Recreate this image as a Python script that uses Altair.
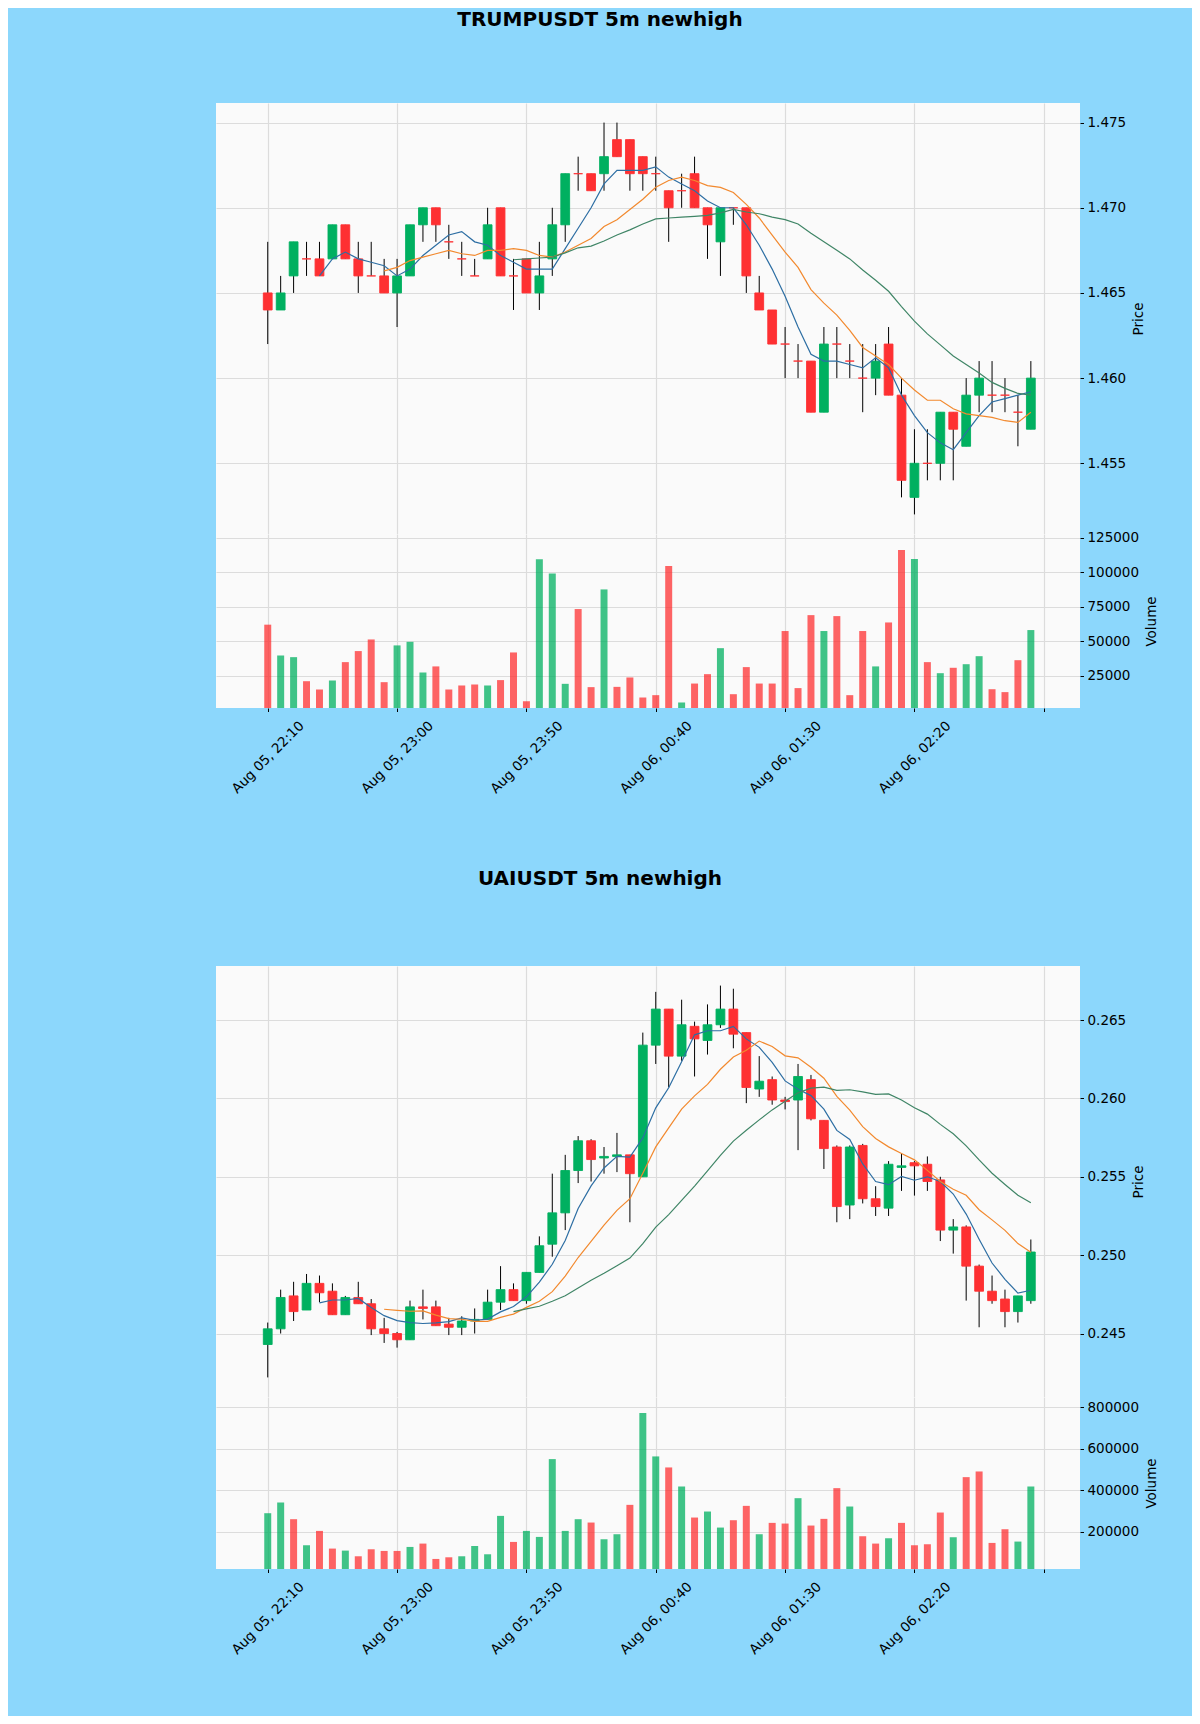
import json
import altair as alt
import pandas as pd

# ---------------- style ----------------
BG = "#8cd7fc"
PANEL = "#fafafa"
UP = "#00b060"
DOWN = "#fe3032"
GRID = "#dcdcdc"
MA_COLORS = ["#2d6ea3", "#f2892e", "#3f8566"]
MA_PERIODS = [5, 10, 20]
FONT = "DejaVu Sans"
FS = 13.5

# ---------------- axis ticks ----------------
tick_positions = [0, 10, 20, 30, 40, 50, 60]
tick_labels = ["Aug 05, 22:10", "Aug 05, 23:00", "Aug 05, 23:50",
               "Aug 06, 00:40", "Aug 06, 01:30", "Aug 06, 02:20", ""]

# ---------------- TRUMPUSDT ----------------
trump_open = [1.465, 1.464, 1.466, 1.467, 1.467, 1.467, 1.469, 1.467, 1.466, 1.466,
              1.465, 1.466, 1.469, 1.470, 1.468, 1.467, 1.466, 1.467, 1.470, 1.466,
              1.467, 1.465, 1.467, 1.469, 1.472, 1.472, 1.472, 1.474, 1.474, 1.473,
              1.472, 1.471, 1.471, 1.472, 1.470, 1.468, 1.470, 1.470, 1.465, 1.464,
              1.462, 1.461, 1.461, 1.458, 1.462, 1.461, 1.460, 1.460, 1.462, 1.459,
              1.453, 1.455, 1.455, 1.458, 1.456, 1.459, 1.459, 1.459, 1.458, 1.457]
trump_high = [1.468, 1.466, 1.468, 1.468, 1.468, 1.469, 1.469, 1.468, 1.468, 1.467,
              1.467, 1.469, 1.470, 1.470, 1.469, 1.468, 1.467, 1.470, 1.470, 1.467,
              1.467, 1.468, 1.470, 1.472, 1.473, 1.472, 1.475, 1.475, 1.474, 1.473,
              1.473, 1.471, 1.472, 1.473, 1.470, 1.470, 1.470, 1.470, 1.466, 1.464,
              1.463, 1.462, 1.461, 1.463, 1.463, 1.462, 1.462, 1.462, 1.463, 1.460,
              1.457, 1.457, 1.458, 1.458, 1.460, 1.461, 1.461, 1.460, 1.459, 1.461]
trump_low = [1.462, 1.464, 1.465, 1.466, 1.466, 1.467, 1.467, 1.465, 1.466, 1.465,
             1.463, 1.466, 1.468, 1.468, 1.467, 1.466, 1.466, 1.467, 1.466, 1.464,
             1.465, 1.464, 1.466, 1.468, 1.471, 1.471, 1.471, 1.473, 1.471, 1.471,
             1.471, 1.468, 1.470, 1.470, 1.467, 1.466, 1.469, 1.465, 1.464, 1.462,
             1.460, 1.460, 1.458, 1.458, 1.460, 1.460, 1.458, 1.459, 1.459, 1.453,
             1.452, 1.454, 1.454, 1.454, 1.456, 1.458, 1.458, 1.458, 1.456, 1.457]
trump_close = [1.464, 1.465, 1.468, 1.467, 1.466, 1.469, 1.467, 1.466, 1.466, 1.465,
               1.466, 1.469, 1.470, 1.469, 1.468, 1.467, 1.466, 1.469, 1.466, 1.466,
               1.465, 1.466, 1.469, 1.472, 1.472, 1.471, 1.473, 1.473, 1.472, 1.472,
               1.472, 1.470, 1.471, 1.470, 1.469, 1.470, 1.470, 1.466, 1.464, 1.462,
               1.462, 1.461, 1.458, 1.462, 1.462, 1.461, 1.460, 1.461, 1.459, 1.454,
               1.455, 1.455, 1.458, 1.457, 1.459, 1.460, 1.459, 1.459, 1.458, 1.460]
trump_volume = [62000, 39700, 38500, 21100, 15100, 21600, 34900, 42900, 51300, 20400,
                47000, 49600, 27400, 31800, 15100, 18000, 18700, 18000, 21900, 41900,
                6600, 109300, 99100, 19200, 73300, 16800, 87500, 17000, 23800, 9300,
                11000, 104400, 5700, 19400, 26200, 45000, 11700, 31300, 19400, 19400,
                57400, 16100, 68900, 57400, 68200, 11000, 57400, 31800, 63600, 116000,
                109500, 34900, 26900, 30800, 33400, 39200, 15300, 13200, 36300, 58100]
trump_price_ticks = [1.455, 1.460, 1.465, 1.470, 1.475]
trump_volume_ticks = [25000, 50000, 75000, 100000, 125000]

# ---------------- UAIUSDT ----------------
uai_open = [0.2443, 0.2453, 0.2474, 0.2465, 0.2482, 0.2477, 0.2462, 0.2473, 0.2469, 0.2453,
            0.2450, 0.2446, 0.2467, 0.2467, 0.2456, 0.2454, 0.2458, 0.2459, 0.2470, 0.2478,
            0.2471, 0.2489, 0.2507, 0.2527, 0.2554, 0.2573, 0.2562, 0.2563, 0.2564, 0.2550,
            0.2634, 0.2657, 0.2627, 0.2646, 0.2637, 0.2647, 0.2657, 0.2642, 0.2606, 0.2612,
            0.2599, 0.2599, 0.2612, 0.2586, 0.2569, 0.2532, 0.2570, 0.2536, 0.2530, 0.2556,
            0.2559, 0.2558, 0.2548, 0.2516, 0.2518, 0.2493, 0.2477, 0.2472, 0.2464, 0.2471]
uai_high = [0.2457, 0.2478, 0.2483, 0.2488, 0.2487, 0.2482, 0.2474, 0.2483, 0.2472, 0.2460,
            0.2451, 0.2471, 0.2478, 0.2471, 0.2460, 0.2461, 0.2466, 0.2478, 0.2493, 0.2482,
            0.2489, 0.2512, 0.2552, 0.2564, 0.2576, 0.2574, 0.2569, 0.2578, 0.2564, 0.2642,
            0.2668, 0.2657, 0.2663, 0.2649, 0.2660, 0.2672, 0.2670, 0.2642, 0.2627, 0.2614,
            0.2601, 0.2622, 0.2615, 0.2586, 0.2570, 0.2570, 0.2571, 0.2544, 0.2560, 0.2565,
            0.2560, 0.2563, 0.2550, 0.2523, 0.2519, 0.2494, 0.2487, 0.2478, 0.2474, 0.2510]
uai_low = [0.2422, 0.2450, 0.2458, 0.2465, 0.2470, 0.2462, 0.2462, 0.2469, 0.2449, 0.2444,
           0.2441, 0.2446, 0.2459, 0.2455, 0.2449, 0.2449, 0.2450, 0.2459, 0.2465, 0.2471,
           0.2469, 0.2489, 0.2499, 0.2516, 0.2546, 0.2547, 0.2552, 0.2553, 0.2521, 0.2550,
           0.2622, 0.2607, 0.2624, 0.2614, 0.2628, 0.2645, 0.2632, 0.2597, 0.2601, 0.2596,
           0.2593, 0.2567, 0.2586, 0.2555, 0.2521, 0.2523, 0.2533, 0.2525, 0.2525, 0.2541,
           0.2538, 0.2541, 0.2509, 0.2501, 0.2471, 0.2454, 0.2469, 0.2454, 0.2457, 0.2469]
uai_close = [0.2453, 0.2473, 0.2464, 0.2482, 0.2476, 0.2462, 0.2473, 0.2469, 0.2453, 0.2450,
             0.2446, 0.2467, 0.2466, 0.2455, 0.2454, 0.2458, 0.2459, 0.2470, 0.2478, 0.2471,
             0.2489, 0.2506, 0.2527, 0.2554, 0.2573, 0.2561, 0.2563, 0.2564, 0.2552, 0.2634,
             0.2657, 0.2627, 0.2647, 0.2638, 0.2647, 0.2657, 0.2641, 0.2607, 0.2611, 0.2599,
             0.2598, 0.2614, 0.2587, 0.2568, 0.2531, 0.2569, 0.2536, 0.2531, 0.2558, 0.2557,
             0.2557, 0.2547, 0.2516, 0.2518, 0.2493, 0.2477, 0.2471, 0.2464, 0.2474, 0.2502]
uai_volume = [289600, 341100, 260700, 135200, 204300, 119100, 109400, 82100, 115800, 107800,
              107800, 127100, 143200, 69200, 77200, 82100, 131900, 91700, 276700, 151200,
              204300, 175400, 550300, 204300, 260700, 244600, 164100, 188300, 329800, 772300,
              563200, 510100, 418300, 268700, 297700, 220400, 255800, 325000, 188300, 243000,
              239700, 362000, 230100, 262300, 410300, 321800, 178600, 143200, 168900, 243000,
              135200, 140000, 292800, 173800, 463400, 490700, 146400, 212400, 152900, 418300]
uai_price_ticks = [0.245, 0.250, 0.255, 0.260, 0.265]
uai_volume_ticks = [200000, 400000, 600000, 800000]

# ---------------- layout ----------------
PLOT_W = 864
FULL_W = 976
X_DOMAIN = [-4.0, 62.8]


def make_df(o, h, l, c, v):
    return pd.DataFrame({"i": list(range(len(o))), "open": o, "high": h,
                         "low": l, "close": c, "volume": v})


def x_channel(field, labels):
    if labels:
        arr = json.dumps(tick_labels)
        axis = alt.Axis(values=tick_positions, title=None, domain=False, grid=True,
                        gridColor=GRID, gridWidth=1.2, ticks=True, tickSize=3.5,
                        tickColor="black",
                        labelExpr=f"{arr}[indexof({json.dumps(tick_positions)}, datum.value)]",
                        labelAngle=315, labelAlign="center", labelBaseline="middle",
                        labelPadding=45.5, labelOverlap=False, labelFontSize=FS,
                        labelColor="black", labelFont=FONT)
    else:
        axis = alt.Axis(values=tick_positions, title=None, domain=False, grid=True,
                        gridColor=GRID, gridWidth=1.2, ticks=False, labels=False)
    return alt.X(field, scale=alt.Scale(domain=X_DOMAIN, nice=False, zero=False), axis=axis)


def y_axis(values, fmt, title):
    return alt.Axis(orient="right", values=values, format=fmt, title=title,
                    titleAngle=270, titleBaseline="top", titlePadding=6,
                    titleFontSize=FS, titleFontWeight="normal", titleFont=FONT,
                    titleColor="black", labelFontSize=FS, labelFont=FONT,
                    labelColor="black", tickSize=3.5, tickColor="black",
                    labelPadding=3.5, domain=False, grid=True, gridColor=GRID,
                    gridWidth=1.2)


def price_panel(df, title, ticks, fmt, height, title_offset):
    lo, hi = df["low"].min(), df["high"].max()
    pad = 0.05 * (hi - lo)
    yscale = alt.Scale(domain=[lo - pad, hi + pad], nice=False, zero=False)
    yax = y_axis(ticks, fmt, "Price")

    def Y(field):
        return alt.Y(field, scale=yscale, axis=yax)

    base = alt.Chart(df)
    wick = base.mark_rule(color="black", strokeWidth=1).encode(
        x=x_channel("i:Q", False), y=Y("low:Q"), y2="high:Q")
    cscale = alt.Scale(domain=["up", "down"], range=[UP, DOWN])
    body = base.transform_calculate(
        x0="datum.i - 0.34", x1="datum.i + 0.34",
        dir="datum.close > datum.open ? 'up' : 'down'",
    ).mark_rect(strokeWidth=0.9).encode(
        x=x_channel("x0:Q", False), x2="x1:Q",
        y=Y("open:Q"), y2="close:Q",
        color=alt.Color("dir:N", scale=cscale, legend=None),
        stroke=alt.Stroke("dir:N", scale=cscale, legend=None),
    )
    lines = []
    for n, col in zip(MA_PERIODS, MA_COLORS):
        lines.append(
            base.transform_window(
                ma="mean(close)", cnt="count()", frame=[-(n - 1), 0],
                sort=[alt.SortField("i", order="ascending")],
            ).transform_filter(f"datum.cnt == {n}")
            .mark_line(color=col, strokeWidth=1.2)
            .encode(x=x_channel("i:Q", False), y=Y("ma:Q"))
        )
    return alt.layer(wick, body, *lines).properties(
        width=PLOT_W, height=height,
        view=alt.ViewBackground(fill=PANEL, strokeWidth=0),
        title=alt.TitleParams(text=title, anchor="middle", frame="group", dx=-48,
                              offset=title_offset, fontSize=20, font=FONT,
                              fontWeight="bold", color="black"),
    )


def volume_panel(df, ticks, height):
    vmin = 0.3 * df["volume"].min()
    vmax = 1.1 * df["volume"].max()
    vscale = alt.Scale(domain=[vmin, vmax], nice=False, zero=False)
    return alt.Chart(df).transform_window(
        prev="lag(close)", sort=[alt.SortField("i", order="ascending")]
    ).transform_calculate(
        x0="datum.i - 0.27", x1="datum.i + 0.27",
        vdir="(datum.prev == null ? datum.close > datum.open : datum.close > datum.prev) ? 'up' : 'down'",
    ).mark_rect(opacity=0.75).encode(
        x=x_channel("x0:Q", True), x2="x1:Q",
        y=alt.Y("volume:Q", scale=vscale, axis=y_axis(ticks, "d", "Volume")),
        y2=alt.datum(vmin),
        color=alt.Color("vdir:N", scale=alt.Scale(domain=["up", "down"], range=[UP, DOWN]),
                        legend=None),
    ).properties(width=PLOT_W, height=height,
                 view=alt.ViewBackground(fill=PANEL, strokeWidth=0))


def spacer(h):
    return alt.Chart(pd.DataFrame({"s": [0]})).mark_point(opacity=0).encode(
        x=alt.X("s:Q", axis=None), y=alt.Y("s:Q", axis=None)
    ).properties(width=FULL_W, height=h,
                 view=alt.ViewBackground(fill="transparent", strokeWidth=0))


trump = make_df(trump_open, trump_high, trump_low, trump_close, trump_volume)
uai = make_df(uai_open, uai_high, uai_low, uai_close, uai_volume)

chart = alt.vconcat(
    spacer(95),
    price_panel(trump, "TRUMPUSDT 5m newhigh", trump_price_ticks, ".3f", 431, 73),
    volume_panel(trump, trump_volume_ticks, 174),
    spacer(258),
    price_panel(uai, "UAIUSDT 5m newhigh", uai_price_ticks, ".3f", 431, 77),
    volume_panel(uai, uai_volume_ticks, 172),
    spacer(147),
    spacing=0,
    bounds="flush",
).properties(
    background=BG,
    padding={"left": 208, "top": 0, "right": 0, "bottom": 0},
).configure(font=FONT).configure_view(strokeWidth=0)

chart.save("out.html", embed_options={"renderer": "svg", "actions": False})
